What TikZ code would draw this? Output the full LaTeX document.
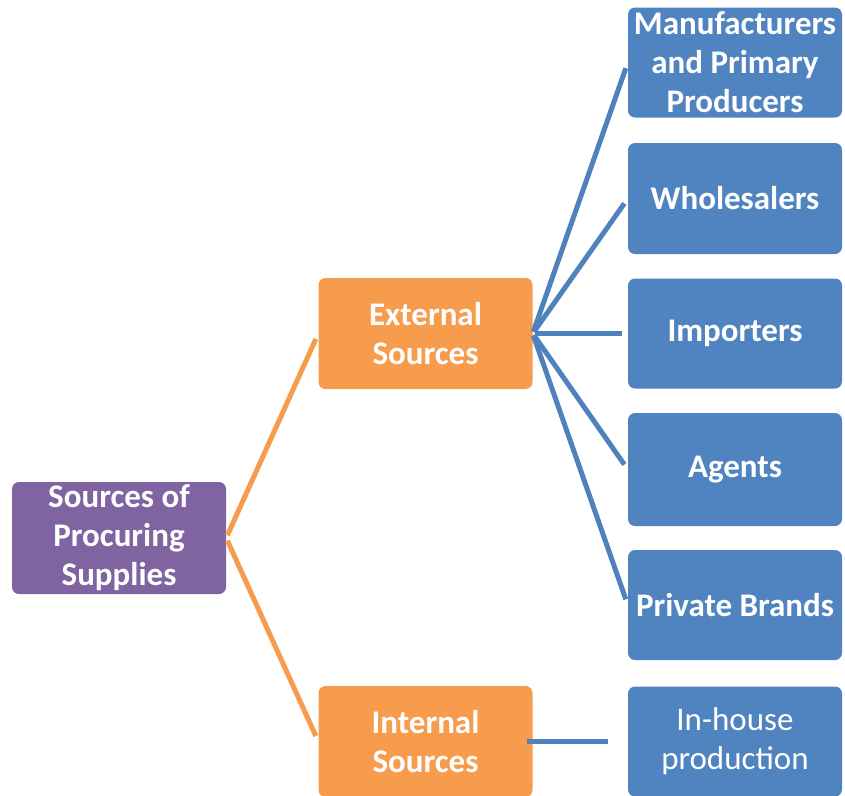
\documentclass[tikz,border=0pt]{standalone}
\usepackage{fontspec}
\setmainfont{Carlito}
\definecolor{bluebox}{HTML}{5084C0}
\definecolor{orangebox}{HTML}{F79B4C}
\definecolor{purplebox}{HTML}{8064A2}
\definecolor{blueline}{HTML}{4F81BD}
\tikzset{
  box/.style={rounded corners=7pt, minimum width=214pt, align=center,
    text=white, font=\fontsize{33}{39}\selectfont\bfseries, inner sep=0pt},
  bluebx/.style={box, fill=bluebox},
  orangebx/.style={box, fill=orangebox},
  purplebx/.style={box, fill=purplebox},
  oline/.style={draw=orangebox, line width=5pt},
  bline/.style={draw=blueline, line width=5pt},
}
\begin{document}
\begin{tikzpicture}[x=1pt,y=-1pt]
\useasboundingbox (0,0) rectangle (845,795);
\clip (0,0) rectangle (845,795);
\node[purplebx, minimum height=112pt] (src) at (119,538) {Sources of\\Procuring\\Supplies};
\node[orangebx, minimum height=111pt] (ext) at (425.5,333.5) {External\\Sources};
\node[orangebx, minimum height=111pt] (int) at (425.5,741.5) {Internal\\Sources};
\node[bluebx, minimum height=110pt] (man) at (735,62.5) {Manufacturers\\and Primary\\Producers};
\node[bluebx, minimum height=111pt] (who) at (735,198.5) {Wholesalers};
\node[bluebx, minimum height=110pt] (imp) at (735,333.5) {Importers};
\node[bluebx, minimum height=113pt] (age) at (735,469.5) {Agents};
\node[bluebx, minimum height=110pt] (pri) at (735,605) {Private Brands};
\node[bluebx, minimum height=110pt, font=\fontsize{33}{39}\selectfont] (inh) at (735,741.5) {In-house\\production};
\draw[oline, shorten <=3pt, shorten >=6pt] (src.east) -- (ext.west);
\draw[oline, shorten <=3pt, shorten >=6pt] (src.east) -- (int.west);
\foreach \t in {man,who,imp,age,pri}
  \draw[bline, shorten <=2pt, shorten >=6pt] (ext.east) -- (\t.west);
\draw[bline, shorten <=-6pt, shorten >=20pt] (int.east) -- (inh.west);
\end{tikzpicture}
\end{document}
